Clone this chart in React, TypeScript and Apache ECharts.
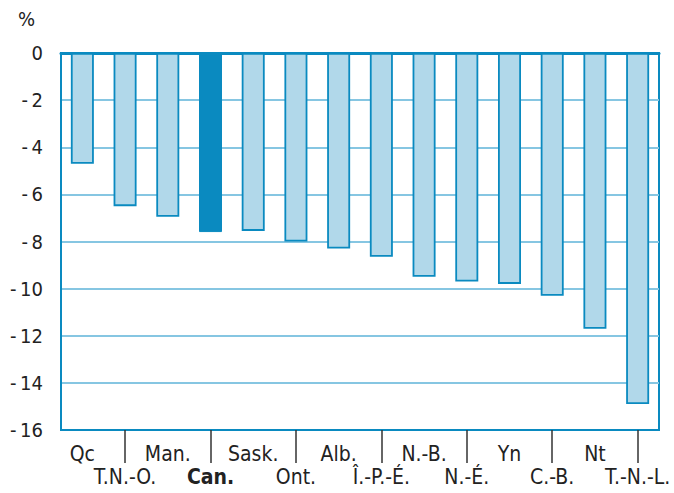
import React, { useEffect, useRef } from "react";
import * as echarts from "echarts";

const categories = [
  "Qc", "T.N.-O.", "Man.", "Can.", "Sask.", "Ont.", "Alb.",
  "Î.-P.-É.", "N.-B.", "N.-É.", "Yn", "C.-B.", "Nt", "T.-N.-L.",
];
const values = [-4.7, -6.5, -6.95, -7.6, -7.55, -8.0, -8.3, -8.65, -9.5, -9.7, -9.8, -10.3, -11.7, -14.9];
const highlight = "Can.";
const yTicks = { min: -16, max: 0, interval: 2 };

const FONT = "'Liberation Sans Narrow', 'DejaVu Sans Condensed', 'Liberation Sans', sans-serif";
const DARK = "#0a8ac0";
const LIGHT = "#b1d8ea";
const GRID = "#86c6e2";

export default function App() {
  const ref = useRef<HTMLDivElement>(null);
  useEffect(() => {
    if (!ref.current) return;
    const chart = echarts.init(ref.current, null, { renderer: "svg" });
    chart.setOption({
      animation: false,
      grid: { left: 61, right: 15, top: 53, bottom: 63, show: true, borderColor: DARK, borderWidth: 2, containLabel: false },
      graphic: [
        {
          type: "text",
          left: 18,
          top: 9,
          style: { text: "%", fontSize: 20, fontFamily: FONT, fill: "#222" },
        },
      ],
      xAxis: [
        {
          type: "category",
          data: categories,
          position: "bottom",
          axisLine: { show: true, onZero: false, lineStyle: { color: DARK, width: 2 } },
          axisTick: {
            show: true,
            alignWithLabel: true,
            interval: (i: number) => i % 2 === 1,
            length: 33,
            lineStyle: { color: "#333", width: 1.5 },
          },
          axisLabel: {
            interval: 0,
            margin: 12,
            fontSize: 21,
            fontFamily: FONT,
            color: "#222",
            lineHeight: 23,
            formatter: (v: string, i: number) => {
              const t = v === highlight ? `{b|${v}}` : `{a|${v}}`;
              return i % 2 === 1 ? `{a| }\n${t}` : t;
            },
            rich: {
              a: { fontSize: 21, fontFamily: FONT, color: "#222", lineHeight: 23 },
              b: { fontSize: 21, fontFamily: FONT, color: "#222", fontWeight: "bold", lineHeight: 23 },
            },
          },
        },
        {
          type: "category",
          data: categories,
          position: "top",
          axisLine: { show: true, onZero: false, lineStyle: { color: DARK, width: 3 } },
          axisTick: { show: false },
          axisLabel: { show: false },
        },
      ],
      yAxis: {
        type: "value",
        min: yTicks.min,
        max: yTicks.max,
        interval: yTicks.interval,
        axisLine: { show: true, lineStyle: { color: DARK, width: 2 } },
        axisTick: { show: false },
        splitLine: { show: true, lineStyle: { color: GRID, width: 2 } },
        axisLabel: {
          margin: 18,
          fontSize: 20,
          fontFamily: FONT,
          color: "#222",
          formatter: (v: number) => (v === 0 ? "0" : String(v).replace("-", "-\u2009")),
        },
      },
      series: [
        {
          type: "bar",
          barWidth: 23,
          data: values.map((v, i) => ({
            value: v,
            itemStyle:
              categories[i] === highlight
                ? { color: DARK, borderColor: DARK, borderWidth: 1 }
                : { color: LIGHT, borderColor: DARK, borderWidth: 1.8 },
          })),
        },
      ],
    });
    return () => chart.dispose();
  }, []);
  return <div ref={ref} style={{ width: 674, height: 493, position: "absolute", left: 0, top: 0 }} />;
}
